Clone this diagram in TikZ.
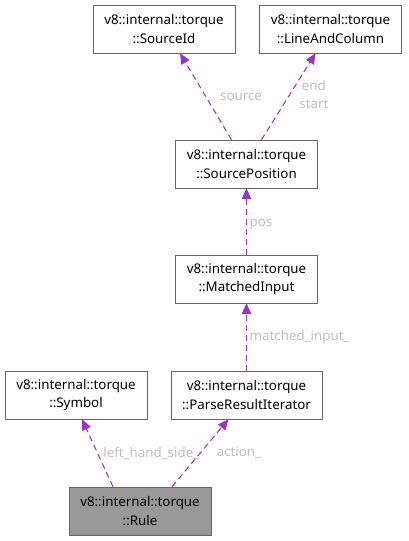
\documentclass[tikz,border=0pt]{standalone}
\usepackage{fontspec}
\setmainfont{Noto Sans}
\usetikzlibrary{arrows.meta,calc}
\definecolor{edgepurple}{HTML}{9A32CD}
\definecolor{labelgray}{HTML}{BEBEBE}
\definecolor{boxline}{HTML}{666666}
\definecolor{rulefill}{HTML}{999999}
\tikzset{
  classbox/.style={draw=boxline, fill=white, align=center, minimum width=106.5pt, minimum height=36pt, inner sep=2pt, font=\fontsize{10}{14}\selectfont},
  reledge/.style={draw=edgepurple, dashed, dash pattern=on 4.5pt off 3pt, line width=0.8pt, -{Triangle[length=8pt,width=7pt]}},
  edgelabel/.style={text=labelgray, inner sep=1pt, font=\fontsize{10}{13.5}\selectfont, align=center}
}
\begin{document}
\begin{tikzpicture}[x=0.75pt, y=-0.75pt]
\useasboundingbox (0,0) rectangle (408,541);
\node[classbox] (sourceid) at (164,29) {v8::internal::torque\\::SourceId};
\node[classbox] (linecol) at (330.5,29) {v8::internal::torque\\::LineAndColumn};
\node[classbox] (srcpos) at (246.5,164) {v8::internal::torque\\::SourcePosition};
\node[classbox] (matched) at (246.5,279) {v8::internal::torque\\::MatchedInput};
\node[classbox] (symbol) at (76,395) {v8::internal::torque\\::Symbol};
\node[classbox, minimum width=113.25pt] (iterator) at (246.5,395) {v8::internal::torque\\::ParseResultIterator};
\node[classbox, fill=rulefill] (rule) at (140,511) {v8::internal::torque\\::Rule};
\draw[reledge] ($(rule.north)+(-27,0)$) -- node[edgelabel, pos=0.5, right=3pt] {left\_hand\_side\_} ($(symbol.south)+(6,0)$);
\draw[reledge] ($(rule.north)+(32,0)$) -- node[edgelabel, pos=0.5, right=11pt] {action\_} ($(iterator.south)+(-18,0)$);
\draw[reledge] (iterator.north) -- node[edgelabel, pos=0.5, right=1pt] {matched\_input\_} (matched.south);
\draw[reledge] (matched.north) -- node[edgelabel, pos=0.45, right=1pt] {pos} (srcpos.south);
\draw[reledge] ($(srcpos.north)+(-15,0)$) -- node[edgelabel, pos=0.49, right=9pt] {source} ($(sourceid.south)+(16,0)$);
\draw[reledge] ($(srcpos.north)+(15,0)$) -- node[edgelabel, pos=0.52, right=6pt] {end\\start} ($(linecol.south)+(-15,0)$);
\end{tikzpicture}
\end{document}
